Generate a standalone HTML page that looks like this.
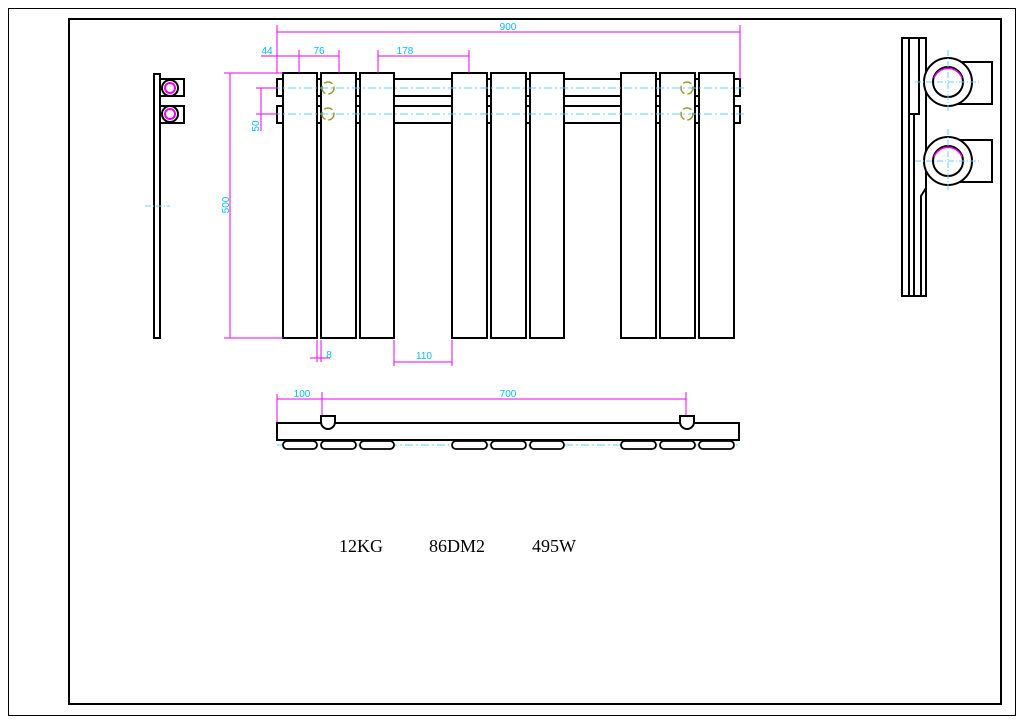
<!DOCTYPE html>
<html><head><style>body{margin:0;background:#fff}svg{display:block}</style></head><body>
<svg width="1024" height="724" viewBox="0 0 1024 724" xmlns="http://www.w3.org/2000/svg" font-family="Liberation Sans, sans-serif">
<rect x="8.5" y="8.5" width="1007" height="707" fill="none" stroke="#000" stroke-width="1"/>
<rect x="69" y="19" width="932" height="685" fill="none" stroke="#000" stroke-width="2"/>
<g stroke="#000" stroke-width="2" fill="none">
<rect x="154" y="74" width="6" height="264"/>
<rect x="160" y="79" width="24" height="17"/><rect x="160" y="106" width="24" height="17"/>
</g>
<g fill="none" stroke="#000" stroke-width="2"><circle cx="170" cy="88" r="8"/><circle cx="170" cy="114" r="8"/></g>
<g fill="none" stroke="#e0e" stroke-width="2"><circle cx="170" cy="88" r="5"/><circle cx="170" cy="114" r="5"/></g>
<line x1="145" y1="206" x2="170" y2="206" stroke="#6cf" stroke-dasharray="6,2,1,2"/>
<g stroke="#000" stroke-width="2" fill="#fff">
<rect x="277" y="79" width="463" height="17"/><rect x="277" y="106" width="463" height="17"/>
</g>
<g stroke="#000" stroke-width="2" fill="#fff">
<rect x="283" y="73" width="34" height="265"/><rect x="321" y="73" width="35" height="265"/><rect x="360" y="73" width="34" height="265"/>
<rect x="452" y="73" width="35" height="265"/><rect x="491" y="73" width="35" height="265"/><rect x="530" y="73" width="34" height="265"/>
<rect x="621" y="73" width="35" height="265"/><rect x="660" y="73" width="35" height="265"/><rect x="699" y="73" width="35" height="265"/>
</g>
<g stroke="#6cf" stroke-dasharray="8,3,2,3"><line x1="272" y1="88" x2="744" y2="88"/><line x1="272" y1="114" x2="744" y2="114"/></g>
<g fill="none" stroke="#993" stroke-width="1.5" stroke-dasharray="9,3"><circle cx="328" cy="88" r="6"/><circle cx="328" cy="114" r="6"/><circle cx="687" cy="88" r="6"/><circle cx="687" cy="114" r="6"/></g>
<g stroke="#e0e" stroke-width="1" fill="none">
<line x1="277" y1="25" x2="277" y2="73"/><line x1="740" y1="25" x2="740" y2="79"/><line x1="277" y1="32" x2="740" y2="32"/>
<line x1="261" y1="56" x2="339" y2="56"/><line x1="299" y1="50" x2="299" y2="73"/><line x1="339" y1="50" x2="339" y2="73"/>
<line x1="378" y1="56" x2="469" y2="56"/><line x1="378" y1="50" x2="378" y2="73"/><line x1="469" y1="50" x2="469" y2="73"/>
<line x1="224" y1="73" x2="283" y2="73"/><line x1="224" y1="338" x2="283" y2="338"/><line x1="230" y1="73" x2="230" y2="338"/>
<line x1="256" y1="88" x2="277" y2="88"/><line x1="256" y1="114" x2="277" y2="114"/><line x1="261" y1="88" x2="261" y2="131"/>
<line x1="317" y1="340" x2="317" y2="362"/><line x1="321" y1="340" x2="321" y2="362"/><line x1="310" y1="358" x2="330" y2="358"/>
<line x1="394" y1="340" x2="394" y2="366"/><line x1="452" y1="340" x2="452" y2="366"/><line x1="394" y1="362" x2="452" y2="362"/>
<line x1="277" y1="394" x2="277" y2="423"/><line x1="322" y1="392" x2="322" y2="417"/><line x1="686" y1="392" x2="686" y2="417"/><line x1="277" y1="399" x2="686" y2="399"/>
</g>
<g fill="#0bf" font-size="10" text-anchor="middle">
<text x="508" y="30">900</text><text x="267" y="54">44</text><text x="319" y="54">76</text><text x="405" y="54">178</text>
<text x="424" y="359">110</text><text x="329" y="358">8</text>
<text x="302" y="397">100</text><text x="508" y="397">700</text>
<text transform="translate(229,205) rotate(-90)">500</text><text transform="translate(259,126) rotate(-90)">50</text>
</g>
<g stroke="#000" stroke-width="2" fill="#fff">
<rect x="277" y="423" width="462" height="17"/>
<path d="M321 416 h14 v6 a7 7 0 0 1 -14 0 z"/><path d="M680 416 h14 v6 a7 7 0 0 1 -14 0 z"/>
</g>
<line x1="277" y1="445" x2="740" y2="445" stroke="#6cf" stroke-dasharray="8,3,2,3"/>
<g stroke="#000" stroke-width="1.8" fill="#fff">
<rect x="283" y="441" width="34" height="8" rx="4"/><rect x="321" y="441" width="35" height="8" rx="4"/><rect x="360" y="441" width="34" height="8" rx="4"/>
<rect x="452" y="441" width="35" height="8" rx="4"/><rect x="491" y="441" width="35" height="8" rx="4"/><rect x="530" y="441" width="34" height="8" rx="4"/>
<rect x="621" y="441" width="35" height="8" rx="4"/><rect x="660" y="441" width="35" height="8" rx="4"/><rect x="699" y="441" width="35" height="8" rx="4"/>
</g>
<g fill="#000" font-family="Liberation Serif, serif" font-size="18">
<text x="339" y="552">12KG</text><text x="429" y="552">86DM2</text><text x="532" y="552">495W</text>
</g>
<g stroke="#000" stroke-width="2" fill="none">
<rect x="902" y="38" width="24" height="258"/>
<line x1="909" y1="38" x2="909" y2="296"/><line x1="914" y1="115" x2="914" y2="296"/>
<rect x="909" y="38" width="10" height="76" fill="#fff"/>
<path d="M926 38 v150 l-5 8 v100"/>
<rect x="950" y="62" width="42" height="42"/><rect x="950" y="140" width="42" height="42"/>
</g>
<g stroke="#000" stroke-width="2" fill="#fff">
<circle cx="948" cy="82" r="24"/><circle cx="948" cy="161" r="24"/>
<circle cx="948" cy="82" r="15"/><circle cx="948" cy="161" r="15"/>
</g>
<g fill="none" stroke="#e0e" stroke-width="1.5"><path d="M934 78 a15 15 0 0 1 28 0"/><path d="M934 157 a15 15 0 0 1 28 0"/></g>
<g stroke="#6cf" stroke-dasharray="6,2,1,2"><line x1="915" y1="82" x2="980" y2="82"/><line x1="948" y1="50" x2="948" y2="112"/><line x1="915" y1="161" x2="980" y2="161"/><line x1="948" y1="129" x2="948" y2="192"/></g>
</svg>
</body></html>
